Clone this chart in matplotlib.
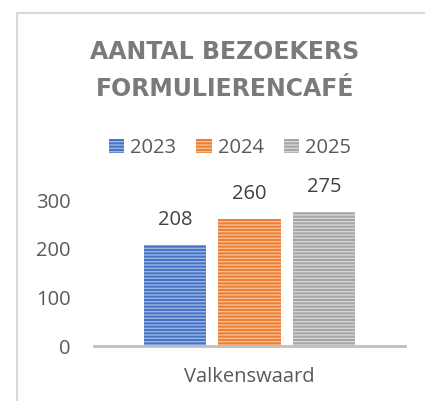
import matplotlib
matplotlib.use("Agg")
import matplotlib.pyplot as plt
from matplotlib.patches import Rectangle, Patch

categories = ["Valkenswaard"]
series = ["2023", "2024", "2025"]
values = [208, 260, 275]
colors = ["#4472c4", "#ed7d31", "#a5a5a5"]
stripe = ["#9db5e3", "#f6bd95", "#d6d6d6"]
yticks = [0, 100, 200, 300]

plt.rcParams['font.family'] = ['Open Sans', 'DejaVu Sans']
plt.rcParams['hatch.linewidth'] = 1.0

W, H = 425, 401
fig = plt.figure(figsize=(W/100, H/100), dpi=100)
fig.patches.append(Rectangle((17/W, -0.2), 1.2, 1.2 - 13/H, transform=fig.transFigure,
                             fill=False, edgecolor="#d9d9d9", linewidth=1.5))

ax = fig.add_axes([94/W, (H-346)/H, 311/W, 146/H])
offsets = [-1, 0, 1]
for off, v, c, s, name in zip(offsets, values, colors, stripe, series):
    plt.rcParams['hatch.color'] = s
    ax.bar(off, v, width=0.84, color=c, edgecolor=s, linewidth=0, hatch='-----', label=name)
    ax.annotate(str(v), (off, v), xytext=(0, 18), textcoords='offset points',
                ha='center', va='center', fontsize=14.5, color='#404040')

ax.set_xlim(-2.09, 2.09)
ax.set_ylim(0, 300)
ax.set_yticks(yticks)
ax.set_yticklabels([str(t) for t in yticks], fontsize=14.5, color='#595959')
ax.set_xticks([0])
ax.set_xticklabels(categories, fontsize=14.5, color='#595959')
ax.tick_params(length=0)
ax.tick_params(axis='y', pad=17)
ax.tick_params(axis='x', pad=15)
for sp in ['top', 'right', 'left']:
    ax.spines[sp].set_visible(False)
ax.spines['bottom'].set_color('#bfbfbf')
ax.spines['bottom'].set_linewidth(2)

handles = [Patch(facecolor=c, edgecolor=s, hatch='-----', linewidth=0) for c, s in zip(colors, stripe)]
fig.legend(handles, series, loc='center', bbox_to_anchor=(230/W, 1 - 148/H), ncol=3,
           frameon=False, fontsize=14.5, handlelength=0.75, handleheight=0.75,
           handletextpad=0.3, columnspacing=1.0, labelcolor='#595959')

fig.text(225/W, 1 - 52/H, "AANTAL BEZOEKERS", ha='center', va='center',
         fontsize=17, fontweight='bold', color='#7a7a7a', family='DejaVu Sans')
fig.text(225/W, 1 - 89/H, "FORMULIERENCAFÉ", ha='center', va='center',
         fontsize=17, fontweight='bold', color='#7a7a7a', family='DejaVu Sans')

fig.savefig("out.png", dpi=100)
